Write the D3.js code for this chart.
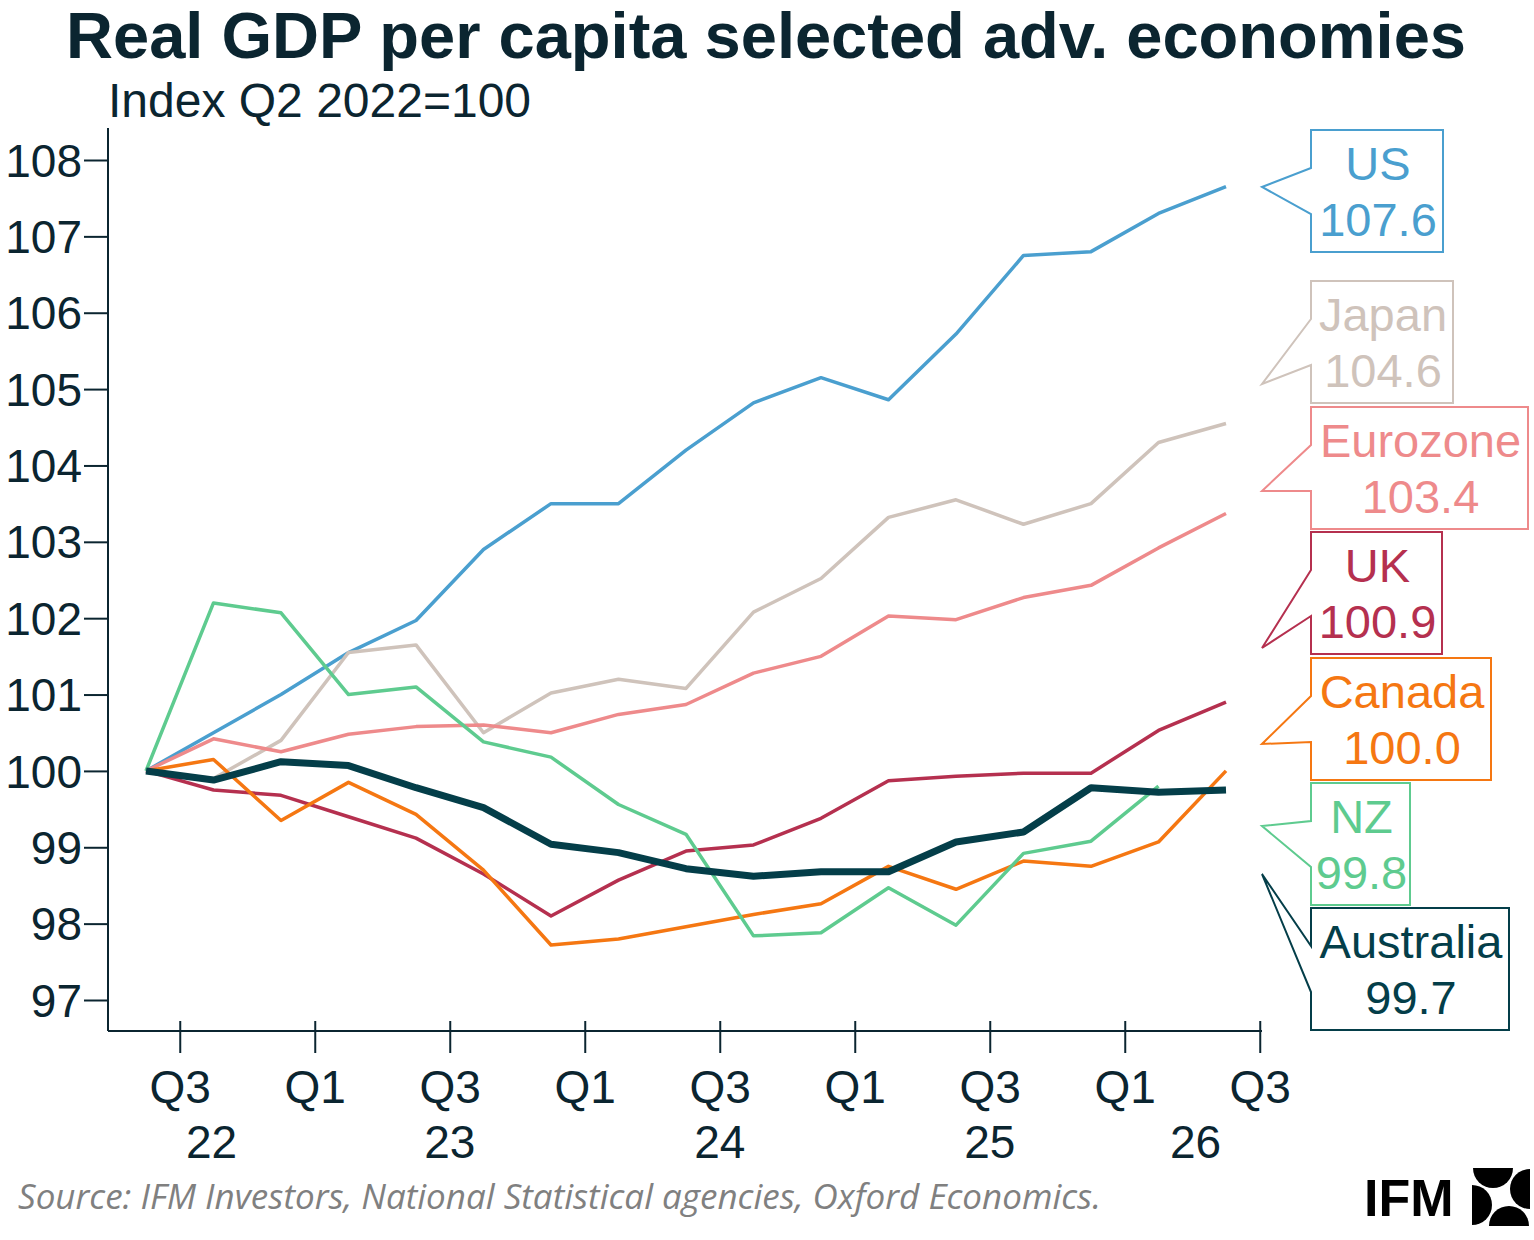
<!DOCTYPE html>
<html><head><meta charset="utf-8">
<script src="https://cdn.jsdelivr.net/npm/d3@7"></script>
<style>body{margin:0;background:#fff}</style>
</head><body>
<svg id="c" width="1534" height="1240"></svg>
<script>
const tickLabels = ['Q3', 'Q1', 'Q3', 'Q1', 'Q3', 'Q1', 'Q3', 'Q1', 'Q3'];
const yearLabels = [['22', 0.97], ['23', 4.5], ['24', 8.5], ['25', 12.5], ['26', 15.55]];
const yTicks = [97, 98, 99, 100, 101, 102, 103, 104, 105, 106, 107, 108];

const us = [100, 100.5, 101.0, 101.55, 101.97, 102.9, 103.5, 103.5, 104.2, 104.82, 105.15, 104.86, 105.72, 106.75, 106.8, 107.3, 107.65];
const japan = [100, 99.9, 100.4, 101.55, 101.65, 100.5, 101.02, 101.2, 101.08, 102.08, 102.52, 103.32, 103.55, 103.23, 103.5, 104.3, 104.55];
const eurozone = [100, 100.42, 100.25, 100.48, 100.58, 100.6, 100.5, 100.74, 100.87, 101.28, 101.5, 102.03, 101.98, 102.27, 102.43, 102.92, 103.37];
const uk = [100, 99.75, 99.68, 99.4, 99.12, 98.65, 98.1, 98.57, 98.95, 99.03, 99.38, 99.87, 99.93, 99.97, 99.97, 100.53, 100.9];
const canada = [100, 100.15, 99.35, 99.85, 99.43, 98.7, 97.72, 97.8, 97.96, 98.12, 98.26, 98.75, 98.45, 98.82, 98.75, 99.07, 100.0];
const nz = [100, 102.2, 102.07, 101.0, 101.1, 100.38, 100.18, 99.56, 99.17, 97.84, 97.88, 98.47, 97.98, 98.92, 99.08, 99.8];
const australia = [100, 99.88, 100.12, 100.07, 99.78, 99.52, 99.04, 98.93, 98.72, 98.62, 98.68, 98.68, 99.07, 99.2, 99.78, 99.72, 99.75];

const series = [
	{ name: 'US', label: '107.6', values: us, color: '#4a9fcf', width: 3.5, box: [130, 132], tipY: 187 },
	{ name: 'Japan', label: '104.6', values: japan, color: '#cfc3bb', width: 3.5, box: [281, 142], tipY: 384 },
	{ name: 'Eurozone', label: '103.4', values: eurozone, color: '#ee8a8b', width: 3.5, box: [407, 217], tipY: 491 },
	{ name: 'UK', label: '100.9', values: uk, color: '#b5304f', width: 3.5, box: [532, 131], tipY: 648 },
	{ name: 'Canada', label: '100.0', values: canada, color: '#f57712', width: 3.5, box: [658, 180], tipY: 744 },
	{ name: 'NZ', label: '99.8', values: nz, color: '#5ecb8f', width: 3.5, box: [783, 99], tipY: 826 },
	{ name: 'Australia', label: '99.7', values: australia, color: '#043e49', width: 7, box: [908, 198], tipY: 874 }
];

const svg = d3.select('#c');
const x = d3.scaleLinear().domain([0, 16]).range([146, 1226]);
const y = d3.scaleLinear().domain([97, 108]).range([1000, 160]);
const ink = '#0b2530';
const font = 'Liberation Sans, Arial';

svg.append('text').attr('x', 766).attr('y', 58).attr('text-anchor', 'middle')
	.attr('font-family', font).attr('font-weight', 'bold').attr('font-size', 64)
	.attr('textLength', 1400).attr('lengthAdjust', 'spacingAndGlyphs')
	.attr('fill', ink).text('Real GDP per capita selected adv. economies');
svg.append('text').attr('x', 108).attr('y', 117)
	.attr('font-family', font).attr('font-size', 48)
	.attr('fill', ink).text('Index Q2 2022=100');

// axes
const yAxis = svg.append('g').attr('transform', 'translate(108,0)')
	.call(d3.axisLeft(y).tickValues(yTicks).tickSize(24).tickSizeOuter(0));
yAxis.select('.domain').attr('d', 'M0,128V1031');
const xTickIdx = tickLabels.map((d, i) => 0.5 + 2 * i);
const xAxis = svg.append('g').attr('transform', 'translate(0,1031)')
	.call(d3.axisBottom(x).tickValues(xTickIdx).tickFormat((d, i) => tickLabels[i]).tickSize(22).tickSizeOuter(0));
xAxis.select('.domain').attr('d', 'M108,0H1262');
[yAxis, xAxis].forEach((a) => {
	a.selectAll('path,line').attr('stroke', ink).attr('stroke-width', 2);
	a.selectAll('text').attr('font-family', font).attr('font-size', 46).attr('fill', ink);
});
yAxis.selectAll('text').attr('x', -26).attr('dy', '0.35em');
xAxis.selectAll('.tick line').attr('y1', -10).attr('y2', 22);
xAxis.selectAll('text').attr('dy', 0).attr('y', 72);
svg.append('g').selectAll('text').data(yearLabels).join('text')
	.attr('x', (d) => x(d[1])).attr('y', 1158).attr('text-anchor', 'middle')
	.attr('font-family', font).attr('font-size', 46).attr('fill', ink)
	.text((d) => d[0]);

// lines
const line = d3.line().x((d, i) => x(i)).y((d) => y(d));
svg.append('g').selectAll('path').data(series).join('path')
	.attr('d', (d) => line(d.values)).attr('fill', 'none')
	.attr('stroke', (d) => d.color).attr('stroke-width', (d) => d.width)
	.attr('stroke-linejoin', 'round');

// callouts
const bx = 1311, bh = 122, tipX = 1262;
const callouts = svg.append('g').selectAll('g').data(series).join('g');
callouts.append('path')
	.attr('d', (d) => {
		const t = d.box[0], w = d.box[1];
		return `M${bx},${t}H${bx + w}V${t + bh}H${bx}V${t + 84}L${tipX},${d.tipY}L${bx},${t + 38}Z`;
	})
	.attr('fill', '#fff').attr('stroke', (d) => d.color).attr('stroke-width', 2);
callouts.each(function (d) {
	const g = d3.select(this);
	[d.name, d.label].forEach((s, k) => {
		g.append('text').attr('x', bx + d.box[1] / 2 + 1).attr('y', d.box[0] + 50 + k * 56)
			.attr('text-anchor', 'middle').attr('font-family', font)
			.attr('font-size', 47).attr('fill', d.color).text(s);
	});
});

svg.append('text').attr('x', 18).attr('y', 1209)
	.attr('font-family', 'Open Sans, sans-serif').attr('font-style', 'italic').attr('font-size', 35)
	.attr('fill', '#808080').text('Source: IFM Investors, National Statistical agencies, Oxford Economics.');

// logo
svg.append('text').attr('x', 1364).attr('y', 1216)
	.attr('font-family', font).attr('font-weight', 'bold').attr('font-size', 52)
	.attr('fill', '#000').text('IFM');
const lg = svg.append('g').attr('transform', 'translate(1472,1168)');
lg.append('clipPath').attr('id', 'lgc').append('rect').attr('width', 58).attr('height', 58);
[[21, 0], [58, 21], [37, 58], [0, 37]].forEach(([cx, cy]) => {
	lg.append('circle').attr('cx', cx).attr('cy', cy).attr('r', 20)
		.attr('clip-path', 'url(#lgc)').attr('fill', '#000');
});
</script>
</body></html>
